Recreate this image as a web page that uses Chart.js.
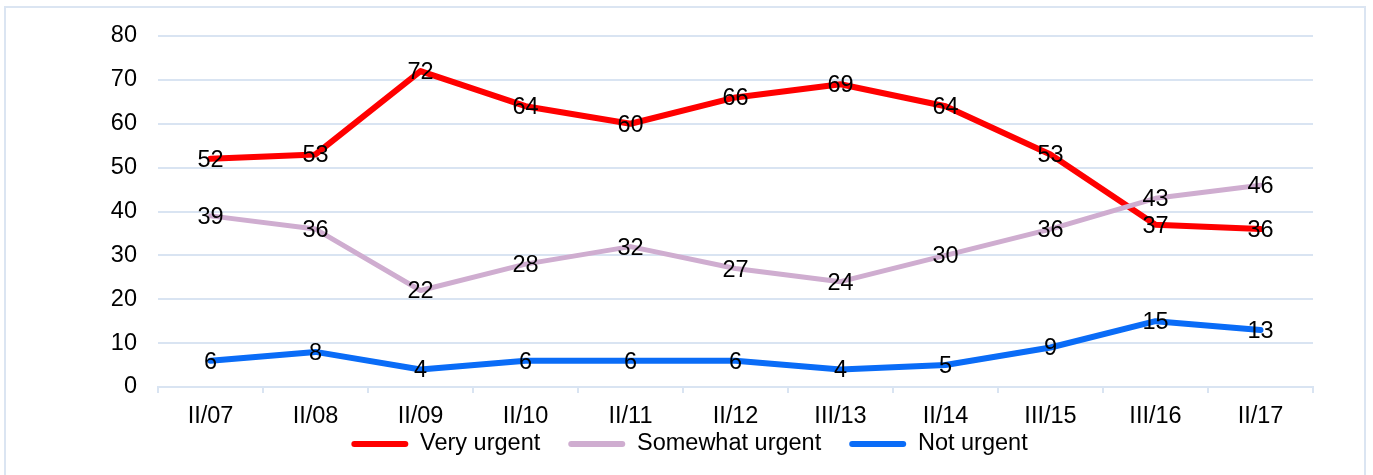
<!DOCTYPE html>
<html>
<head>
<meta charset="utf-8">
<script src="https://cdn.jsdelivr.net/npm/chart.js@4"></script>
<style>
  html, body { margin: 0; padding: 0; background: #ffffff; overflow: hidden; }
  #frame { position: absolute; left: 4px; top: 6px; width: 1362px; height: 490px; border: 2px solid #dbe5f2; box-sizing: border-box; }
  #c { position: absolute; left: 0; top: 0; }
</style>
</head>
<body>
<div id="frame"></div>
<canvas id="c" width="1373" height="475"></canvas>
<script>
const categories = ["II/07", "II/08", "II/09", "II/10", "II/11", "II/12", "III/13", "II/14", "III/15", "III/16", "II/17"];
const veryUrgent = [52, 53, 72, 64, 60, 66, 69, 64, 53, 37, 36];
const somewhatUrgent = [39, 36, 22, 28, 32, 27, 24, 30, 36, 43, 46];
const notUrgent = [6, 8, 4, 6, 6, 6, 4, 5, 9, 15, 13];
const seriesNames = ["Very urgent", "Somewhat urgent", "Not urgent"];

const FONT = "'Liberation Sans', Arial, sans-serif";
const FS = 23.5;
const GRID = "#d9e4f2";
const LEGEND_PAD = 28;
const LEGEND_CENTER_Y = 444;
const LEGEND_LEFT = 6;

const valueLabels = {
  id: 'valueLabels',
  afterDatasetsDraw(chart) {
    const ctx = chart.ctx;
    ctx.save();
    ctx.font = FS + "px " + FONT;
    ctx.fillStyle = "#000000";
    ctx.textAlign = "center";
    ctx.textBaseline = "middle";
    chart.data.datasets.forEach((ds, i) => {
      const meta = chart.getDatasetMeta(i);
      meta.data.forEach((pt, j) => {
        ctx.fillText(String(ds.data[j]), pt.x, pt.y + 1.5);
      });
    });
    ctx.restore();
  }
};

// keep the legend compact in the layout, then place its row where the reference has it
const legendPlace = {
  id: 'legendPlace',
  beforeLayout(chart) {
    const lg = chart.legend;
    if (lg && !lg._compact) {
      lg._compact = true;
      const origFit = lg.fit;
      lg.fit = function () { origFit.call(this); this.height = 44; };
    }
  },
  afterLayout(chart) {
    const lg = chart.legend;
    if (!lg) return;
    const top = LEGEND_CENTER_Y - LEGEND_PAD - FS / 2;
    lg.top = top;
    lg.bottom = chart.height;
    lg.height = lg.bottom - lg.top;
    lg.left = LEGEND_LEFT;
    lg.right = chart.width;
    lg.width = lg.right - lg.left;
  }
};

new Chart(document.getElementById('c'), {
  type: 'line',
  data: {
    labels: categories,
    datasets: [
      { label: seriesNames[0], data: veryUrgent, borderColor: "#ff0000", backgroundColor: "#ff0000", borderWidth: 6, order: 3 },
      { label: seriesNames[1], data: somewhatUrgent, borderColor: "#cfadd0", backgroundColor: "#cfadd0", borderWidth: 5, order: 2 },
      { label: seriesNames[2], data: notUrgent, borderColor: "#0a6cf7", backgroundColor: "#0a6cf7", borderWidth: 6, order: 1 }
    ]
  },
  options: {
    responsive: false,
    animation: false,
    devicePixelRatio: 1,
    layout: { padding: { left: 0, right: 60, top: 36, bottom: 0 } },
    elements: {
      point: { radius: 0, hoverRadius: 0 },
      line: { tension: 0, borderCapStyle: 'round', borderJoinStyle: 'round' }
    },
    plugins: {
      tooltip: { enabled: false },
      legend: {
        position: 'bottom',
        labels: {
          sort: (a, b) => a.datasetIndex - b.datasetIndex,
          boxWidth: 57,
          boxHeight: 6,
          useBorderRadius: true,
          borderRadius: 3,
          padding: LEGEND_PAD,
          color: "#000000",
          font: { family: FONT, size: FS },
          generateLabels(chart) {
            return chart.data.datasets.map((ds, i) => ({
              text: ds.label,
              fillStyle: ds.borderColor,
              strokeStyle: ds.borderColor,
              lineWidth: 0,
              hidden: false,
              datasetIndex: i,
              borderRadius: 3,
              fontColor: "#000000"
            }));
          }
        }
      }
    },
    scales: {
      x: {
        offset: true,
        grid: { offset: true, drawOnChartArea: false, drawTicks: true, tickLength: 6, color: GRID, lineWidth: 2 },
        border: { display: true, color: GRID, width: 2 },
        ticks: { color: "#000000", font: { family: FONT, size: FS }, padding: 9, maxRotation: 0, autoSkip: false },
        afterFit(scale) { scale.height = 44; }
      },
      y: {
        min: 0,
        max: 80,
        ticks: { stepSize: 10, color: "#000000", font: { family: FONT, size: FS }, padding: 21 },
        grid: { drawTicks: false, color: GRID, lineWidth: 2 },
        border: { display: false },
        afterFit(scale) { scale.width = 158; }
      }
    }
  },
  plugins: [valueLabels, legendPlace]
});
</script>
</body>
</html>
